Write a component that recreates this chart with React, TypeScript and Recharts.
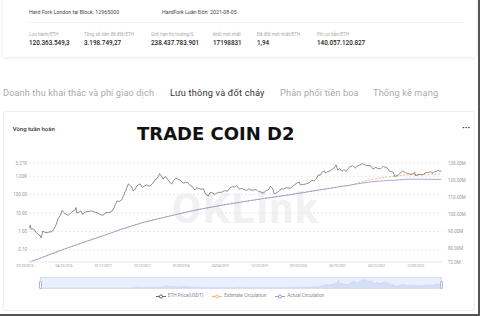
import React from 'react';
import { ComposedChart, AreaChart, Area, Line, XAxis, YAxis, CartesianGrid } from 'recharts';

// ETH price (USDT)
const priceDates = [
  '2015-08-01', '2015-08-07', '2015-08-12', '2015-08-20', '2015-09-01', '2015-09-15', '2015-10-01', '2015-10-12', '2015-10-21', '2015-11-01', '2015-11-15', '2015-12-01', '2015-12-15',
  '2016-01-01', '2016-01-15', '2016-02-01', '2016-02-15', '2016-03-01', '2016-03-13', '2016-03-25', '2016-04-10', '2016-04-25', '2016-05-10', '2016-05-25', '2016-06-10', '2016-06-17', '2016-06-21', '2016-07-05', '2016-07-20', '2016-08-02', '2016-08-15', '2016-09-01', '2016-09-15', '2016-10-01', '2016-10-15', '2016-11-01', '2016-11-15', '2016-12-01', '2016-12-20',
  '2017-01-05', '2017-01-20', '2017-02-05', '2017-02-20', '2017-03-05', '2017-03-15', '2017-03-25', '2017-04-10', '2017-04-25', '2017-05-10', '2017-05-25', '2017-06-12', '2017-06-22', '2017-07-05', '2017-07-16', '2017-07-28', '2017-08-10', '2017-08-31', '2017-09-15', '2017-10-01', '2017-10-15', '2017-11-01', '2017-11-15', '2017-11-29', '2017-12-12', '2017-12-22',
  '2018-01-05', '2018-01-13', '2018-01-25', '2018-02-06', '2018-02-18', '2018-03-01', '2018-03-18', '2018-04-06', '2018-04-20', '2018-05-05', '2018-05-20', '2018-06-05', '2018-06-25', '2018-07-10', '2018-07-25', '2018-08-10', '2018-08-25', '2018-09-12', '2018-09-25', '2018-10-10', '2018-10-25', '2018-11-10', '2018-11-25', '2018-12-14', '2018-12-28',
  '2019-01-10', '2019-01-28', '2019-02-10', '2019-02-25', '2019-03-15', '2019-04-05', '2019-04-25', '2019-05-15', '2019-05-30', '2019-06-15', '2019-06-26', '2019-07-16', '2019-08-01', '2019-08-20', '2019-09-05', '2019-09-20', '2019-10-05', '2019-10-25', '2019-11-10', '2019-11-25', '2019-12-10', '2019-12-18',
  '2020-01-01', '2020-01-15', '2020-02-01', '2020-02-14', '2020-03-01', '2020-03-13', '2020-03-30', '2020-04-15', '2020-04-30', '2020-05-15', '2020-06-01', '2020-06-15', '2020-07-01', '2020-07-25', '2020-08-15', '2020-09-01', '2020-09-08', '2020-09-25', '2020-10-10', '2020-10-25', '2020-11-10', '2020-11-24', '2020-12-10', '2020-12-28',
  '2021-01-10', '2021-01-22', '2021-02-05', '2021-02-20', '2021-03-01', '2021-03-15', '2021-04-01', '2021-04-15', '2021-05-01', '2021-05-12', '2021-05-24', '2021-06-05', '2021-06-22', '2021-07-05', '2021-07-20', '2021-08-01', '2021-08-15', '2021-09-02', '2021-09-21', '2021-10-05', '2021-10-21', '2021-11-10', '2021-11-25', '2021-12-04', '2021-12-20',
  '2022-01-03', '2022-01-22', '2022-02-10', '2022-02-24', '2022-03-15', '2022-04-02', '2022-04-18', '2022-05-01', '2022-05-12', '2022-05-28', '2022-06-10', '2022-06-18', '2022-07-01', '2022-07-15', '2022-08-01', '2022-08-14', '2022-09-01', '2022-09-15', '2022-10-01', '2022-10-15', '2022-11-05', '2022-11-09', '2022-11-21', '2022-12-05', '2022-12-20',
  '2023-01-01', '2023-01-15', '2023-02-01', '2023-02-15', '2023-03-01', '2023-03-10', '2023-03-20', '2023-04-01', '2023-04-15', '2023-04-25', '2023-05-06',
];
const priceValues = [
  1.6, 2.2, 1.3, 1.4, 1.3, 0.9, 0.7, 0.62, 0.45, 1.05, 0.9, 0.85, 0.95,
  0.95, 1.3, 2.4, 5.2, 7.5, 14, 10.5, 8.5, 7.6, 10, 12.5, 14.5, 20, 10, 11, 13, 8.5, 11, 12, 12.3, 13.2, 12, 10.8, 10, 8.4, 7.5,
  10.5, 10.7, 11, 12.8, 19, 30, 45, 43, 50, 88, 170, 390, 320, 265, 160, 200, 300, 390, 250, 300, 335, 290, 330, 430, 650, 700,
  1000, 1390, 1050, 700, 950, 860, 530, 380, 580, 800, 700, 600, 430, 470, 470, 320, 280, 180, 235, 220, 200, 210, 110, 84, 135,
  125, 105, 120, 135, 135, 165, 155, 250, 265, 260, 320, 200, 220, 190, 170, 215, 175, 180, 190, 145, 145, 120,
  130, 165, 185, 280, 220, 110, 130, 155, 210, 200, 240, 230, 225, 320, 430, 475, 340, 355, 370, 410, 450, 600, 560, 730,
  1200, 1100, 1700, 1950, 1500, 1800, 1950, 2450, 2950, 4150, 2100, 2600, 1880, 2300, 1800, 2600, 3300, 3800, 2800, 3500, 4100, 4800, 4300, 3800, 3900,
  3800, 2450, 3100, 2600, 2600, 3450, 3000, 2800, 1950, 1800, 1650, 1000, 1050, 1200, 1620, 1980, 1560, 1470, 1300, 1290, 1620, 1100, 1110, 1270, 1210,
  1200, 1550, 1590, 1700, 1650, 1430, 1780, 1820, 2090, 1850, 1900,
];

// circulation in millions of ETH
const supplyDates = [
  '2015-07-30', '2015-10-01', '2016-01-01', '2016-04-01', '2016-07-01', '2016-10-01', '2017-01-01', '2017-04-01', '2017-07-01',
  '2017-10-01', '2018-01-01', '2018-04-01', '2018-07-01', '2018-10-01', '2019-01-01', '2019-04-01', '2019-07-01', '2019-10-01',
  '2020-01-01', '2020-04-01', '2020-07-01', '2020-10-01', '2021-01-01', '2021-04-01', '2021-07-01', '2021-08-05', '2021-10-01',
  '2022-01-01', '2022-04-01', '2022-07-01', '2022-09-15', '2022-12-01', '2023-02-01', '2023-05-06',
];
const actualSupply = [
  72.0, 73.8, 76.8, 79.7, 82.4, 85.1, 87.7, 90.5, 93.0,
  95.4, 97.3, 99.1, 100.9, 102.6, 104.1, 105.5, 106.7, 108.0,
  109.2, 110.3, 111.5, 112.7, 114.0, 115.2, 116.5, 116.8, 117.7,
  118.9, 119.6, 120.0, 120.52, 120.5, 120.45, 120.36,
];
const estimateSupply = [
  72.0, 73.8, 76.8, 79.7, 82.4, 85.1, 87.7, 90.5, 93.0,
  95.4, 97.3, 99.1, 100.9, 102.6, 104.1, 105.5, 106.7, 108.0,
  109.2, 110.3, 111.5, 112.7, 114.0, 115.2, 116.5, 116.8, 118.1,
  120.2, 121.5, 122.3, 123.1, 123.25, 123.35, 123.56,
];

const xTickDates = [
  '2015-07-29', '2016-04-23', '2017-01-17', '2017-10-13', '2018-07-09', '2019-04-04',
  '2019-12-29', '2020-09-23', '2021-06-19', '2022-03-15', '2022-12-09',
];
const priceTicks = [0.1, 1, 10, 100, 1000, 5270];
const supplyTicks = [72, 80, 90, 100, 110, 120, 130];

const seriesNames = ['ETH Price(USDT)', 'Estimate Circulation', 'Actual Circulation'];
const seriesColors = ['#444444', '#f2a45e', '#8285d8'];

const statLabels = ['Lưu hành/ETH', 'Tổng số tiền đã đốt/ETH', 'Giới hạn thị trường/$', 'khối mới nhất', 'Đã đốt mới nhất/ETH', 'Phí cơ bản/ETH'];
const statValues = ['120.363.549,3', '3.198.749,27', '238.437.783.901', '17198831', '1,94', '140.057.120.827'];
const statX = [29, 84, 151, 213, 257, 317];

const tabLabels = ['Doanh thu khai thác và phí giao dịch', 'Lưu thông và đốt cháy', 'Phân phối tiền boa', 'Thống kê mạng'];
const tabX = [3, 170, 280, 373];
const tabSpacing = [0.11, 0.2, 0.15, 0.15];

const toTime = (s: string) => new Date(s + 'T00:00:00Z').getTime();
const pad = (n: number) => String(n).padStart(2, '0');
const fmtDate = (t: number) => {
  const d = new Date(t);
  return `${pad(d.getUTCMonth() + 1)}/${pad(d.getUTCDate())}/${d.getUTCFullYear()}`;
};
const fmtPrice = (v: number) => (v >= 1000 ? `${(v / 1000).toFixed(2)}K` : v.toFixed(2));
const fmtSupply = (v: number) => (v === 72 ? '72.0M' : `${v.toFixed(2)}M`);

const priceData = priceDates.map((d, i) => ({ t: toTime(d), v: priceValues[i] }));
const actualData = supplyDates.map((d, i) => ({ t: toTime(d), v: actualSupply[i] }));
const estimateData = supplyDates.map((d, i) => ({ t: toTime(d), v: estimateSupply[i] }));
const xTicks = xTickDates.map(toTime);
const xDomain = [toTime('2015-07-29'), toTime('2023-05-11')];

const abs = (left: number, top: number, extra: React.CSSProperties = {}): React.CSSProperties => ({
  position: 'absolute',
  left,
  top,
  whiteSpace: 'nowrap',
  lineHeight: 1,
  ...extra,
});

function LegendIcon({ color }: { color: string }) {
  return (
    <svg width={10} height={5} style={{ display: 'block' }}>
      <line x1={0} y1={2.5} x2={10} y2={2.5} stroke={color} strokeWidth={0.8} />
      <circle cx={5} cy={2.5} r={1.6} fill="#fff" stroke={color} strokeWidth={0.8} />
    </svg>
  );
}

export default function App() {
  const tickStyle = { fontSize: 4.5, fill: '#999' };
  return (
    <div
      style={{
        position: 'absolute',
        left: 0,
        top: 0,
        width: 480,
        height: 316,
        overflow: 'hidden',
        background: '#fff',
        fontFamily: 'Roboto, "Noto Sans", sans-serif',
      }}
    >
      {/* summary card */}
      <div style={abs(3, -4, { width: 473, height: 61, borderRadius: 3, boxShadow: '0 1px 4px rgba(0,0,0,0.09)' })} />
      <div style={abs(29, 22, { width: 436, borderTop: '1px solid #f2f2f2' })} />
      <div style={abs(29, 9.5, { fontSize: 5.3, color: '#444' })}>Hard Fork London tại Block: 12965000</div>
      <div style={abs(162, 9.5, { fontSize: 5.3, color: '#444' })}>HardFork Luân Đôn: 2021-08-05</div>
      {statLabels.map((s, i) => (
        <div key={s} style={abs(statX[i], 32.5, { fontSize: 4.6, color: '#aaa' })}>{s}</div>
      ))}
      {statValues.map((s, i) => (
        <div key={s} style={abs(statX[i], 39.5, { fontSize: 6.3, fontWeight: 500, color: '#222' })}>{s}</div>
      ))}

      {/* tabs */}
      {tabLabels.map((s, i) => (
        <div
          key={s}
          style={abs(tabX[i], 88.3, { fontSize: 9.2, letterSpacing: tabSpacing[i], color: i === 1 ? '#333' : '#aaa' })}
        >
          {s}
        </div>
      ))}

      {/* chart card */}
      <div style={abs(3, 111, { width: 472, height: 200, border: '1px solid #eeeeee', borderRadius: 3, boxSizing: 'border-box' })} />
      <div style={abs(12.7, 126, { fontSize: 6, fontWeight: 500, color: '#333' })}>Vòng tuần hoàn</div>
      <div style={abs(462, 124, { fontSize: 9, fontWeight: 700, color: '#333' })}>···</div>
      <div style={abs(137, 125, { fontSize: 18, fontWeight: 700, color: '#111', fontFamily: '"DejaVu Sans", sans-serif' })}>
        TRADE COIN D2
      </div>
      <div style={abs(172, 187.5, { fontSize: 42, fontWeight: 700, letterSpacing: 2, color: '#f1f1f1' })}>OKLink</div>

      <div style={abs(0, 150)}>
        <ComposedChart width={480} height={125} margin={{ top: 13, right: 0, bottom: 0, left: 0 }}>
          <CartesianGrid yAxisId="left" vertical={false} stroke="#e8e8e8" strokeDasharray="2 2" />
          <XAxis
            dataKey="t"
            type="number"
            domain={xDomain}
            ticks={xTicks}
            interval={0}
            allowDataOverflow
            tickFormatter={fmtDate}
            tick={{ ...tickStyle, fontSize: 3.2, dx: -4 }}
            tickLine={false}
            axisLine={{ stroke: '#eeeeee' }}
            tickSize={0}
            tickMargin={3}
            height={13}
          />
          <YAxis
            yAxisId="left"
            type="number"
            scale="log"
            domain={[0.022, 5270]}
            ticks={priceTicks}
            interval={0}
            allowDataOverflow
            tickFormatter={fmtPrice}
            tick={tickStyle}
            tickLine={false}
            axisLine={false}
            tickSize={0}
            tickMargin={2}
            width={29}
          />
          <YAxis
            yAxisId="right"
            orientation="right"
            type="number"
            domain={[72, 130]}
            ticks={supplyTicks}
            interval={0}
            allowDataOverflow
            tickFormatter={fmtSupply}
            tick={tickStyle}
            tickLine={false}
            axisLine={false}
            tickSize={0}
            tickMargin={6}
            width={38}
          />
          <Line
            yAxisId="right"
            data={estimateData}
            dataKey="v"
            name={seriesNames[1]}
            stroke={seriesColors[1]}
            strokeWidth={0.8}
            strokeDasharray="2 1.5"
            dot={false}
            isAnimationActive={false}
          />
          <Line
            yAxisId="right"
            data={actualData}
            dataKey="v"
            name={seriesNames[2]}
            stroke={seriesColors[2]}
            strokeWidth={0.7}
            dot={false}
            isAnimationActive={false}
          />
          <Line
            yAxisId="left"
            data={priceData}
            dataKey="v"
            name={seriesNames[0]}
            stroke={seriesColors[0]}
            strokeWidth={0.6}
            dot={false}
            isAnimationActive={false}
          />
        </ComposedChart>
      </div>

      {/* data zoom strip */}
      <div
        style={abs(40, 277, {
          width: 402,
          height: 12,
          background: 'rgba(135,165,245,0.18)',
          border: '1px solid #d6def3',
          boxSizing: 'border-box',
        })}
      >
        <AreaChart width={400} height={10} data={priceData} margin={{ top: 0, right: 0, bottom: 0, left: 0 }}>
          <XAxis dataKey="t" type="number" domain={xDomain} hide />
          <YAxis type="number" domain={[0, 5600]} hide />
          <Area
            dataKey="v"
            type="linear"
            stroke="#c2cdec"
            strokeWidth={0.5}
            fill="#c7d2f0"
            fillOpacity={0.6}
            isAnimationActive={false}
          />
        </AreaChart>
      </div>
      <div style={abs(39, 280.5, { width: 3, height: 8, background: '#fff', border: '0.6px solid #aab6d2', borderRadius: 1, boxSizing: 'border-box' })} />
      <div style={abs(440, 280.5, { width: 3, height: 8, background: '#fff', border: '0.6px solid #aab6d2', borderRadius: 1, boxSizing: 'border-box' })} />

      {/* legend */}
      <div style={abs(0, 293.5, { width: 480, display: 'flex', justifyContent: 'center', gap: 9 })}>
        {seriesNames.map((n, i) => (
          <div key={n} style={{ display: 'flex', alignItems: 'center', gap: 2 }}>
            <LegendIcon color={seriesColors[i]} />
            <span style={{ fontSize: 4.7, color: '#888' }}>{n}</span>
          </div>
        ))}
      </div>

      {/* screenshot frame edges */}
      <div style={abs(478, 0, { width: 2, height: 316, background: '#555' })} />
      <div style={abs(0, 314, { width: 480, height: 2, background: '#555' })} />
    </div>
  );
}
